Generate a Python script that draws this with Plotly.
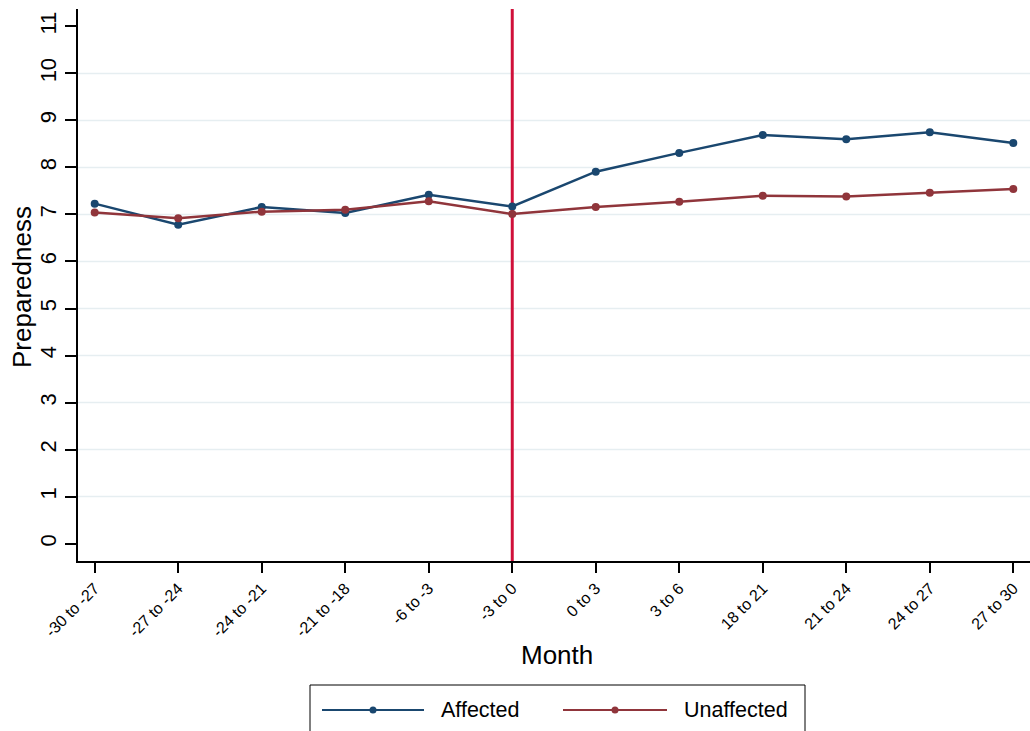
import plotly.graph_objects as go

# Survey periods (months relative to the event) and mean preparedness scores
months = ["-30 to -27", "-27 to -24", "-24 to -21", "-21 to -18", "-6 to -3", "-3 to 0",
          "0 to 3", "3 to 6", "18 to 21", "21 to 24", "24 to 27", "27 to 30"]
affected = [7.23, 6.78, 7.16, 7.03, 7.42, 7.17, 7.91, 8.31, 8.69, 8.60, 8.75, 8.52]
unaffected = [7.04, 6.92, 7.06, 7.10, 7.28, 7.01, 7.16, 7.27, 7.40, 7.38, 7.46, 7.54]
y_ticks = list(range(0, 12))
event_period = "-3 to 0"

BLUE = "#1a476f"
MAROON = "#90353b"
RED = "#d0103a"
GRID = "#e6eef1"
FONT = "Liberation Sans, Arial, sans-serif"

W, H = 1030, 731
L, R, T, B = 78, 0, 9, 170
pw, ph = W - L - R, H - T - B


def px_x(p):
    return (p - L) / pw


def px_y(p):
    return (H - B - p) / ph


xs = list(range(len(months)))

fig = go.Figure()
fig.add_trace(go.Scatter(x=xs, y=affected, mode="lines+markers", name="Affected",
                         line=dict(color=BLUE, width=2.5), marker=dict(color=BLUE, size=8)))
fig.add_trace(go.Scatter(x=xs, y=unaffected, mode="lines+markers", name="Unaffected",
                         line=dict(color=MAROON, width=2.5), marker=dict(color=MAROON, size=8)))

shapes = []
# horizontal gridlines at interior ticks
for v in y_ticks[1:-1]:
    shapes.append(dict(type="line", xref="paper", yref="y", x0=0, x1=1, y0=v, y1=v,
                       line=dict(color=GRID, width=1.5), layer="below"))
# event marker line
ev = months.index(event_period)
shapes.append(dict(type="line", xref="x", yref="paper", x0=ev, x1=ev, y0=0, y1=1,
                   line=dict(color=RED, width=3), layer="below"))

# legend box drawn below the plot
shapes.append(dict(type="rect", xref="paper", yref="paper",
                   x0=px_x(310), x1=px_x(805), y0=px_y(685), y1=px_y(745),
                   line=dict(color="black", width=1), fillcolor="white"))
legend_items = [("Affected", BLUE, 322, 424, 441), ("Unaffected", MAROON, 563, 667, 684)]
annotations = []
ly = px_y(710)
for name, col, a, b, tx in legend_items:
    shapes.append(dict(type="line", xref="paper", yref="paper", x0=px_x(a), x1=px_x(b),
                       y0=ly, y1=ly, line=dict(color=col, width=2)))
    mid = px_x((a + b) / 2)
    shapes.append(dict(type="circle", xref="paper", yref="paper", xsizemode="pixel",
                       ysizemode="pixel", xanchor=mid, yanchor=ly, x0=-3.5, x1=3.5,
                       y0=-3.5, y1=3.5, fillcolor=col, line=dict(color=col, width=0)))
    annotations.append(dict(text=name, xref="paper", yref="paper", x=px_x(tx - 2), y=ly,
                            xanchor="left", yanchor="middle", showarrow=False,
                            font=dict(size=21.5, color="black", family=FONT)))

annotations.append(dict(text="Month", xref="paper", yref="paper", x=px_x(557), y=px_y(655),
                        xanchor="center", yanchor="middle", showarrow=False,
                        font=dict(size=26, color="black", family=FONT)))
annotations.append(dict(text="Preparedness", xref="paper", yref="paper", x=px_x(22),
                        y=px_y(287), xanchor="center", yanchor="middle", showarrow=False,
                        textangle=-90, font=dict(size=26, color="black", family=FONT)))

fig.update_layout(
    width=W, height=H,
    margin=dict(l=L, r=R, t=T, b=B),
    paper_bgcolor="white", plot_bgcolor="white",
    showlegend=False,
    font=dict(family=FONT, color="black"),
    shapes=shapes, annotations=annotations,
    xaxis=dict(range=[-0.2, len(months) - 0.8], tickmode="array", tickvals=xs, ticktext=months,
               tickangle=-45, tickfont=dict(size=16), ticks="outside", ticklen=10,
               tickcolor="black", tickwidth=1.5, showline=True, linecolor="black",
               linewidth=1.5, showgrid=False, zeroline=False),
    yaxis=dict(range=[-0.37, 11.37], tickmode="array", tickvals=y_ticks,
               tickangle=-90, tickfont=dict(size=22), ticks="outside", ticklen=11,
               tickcolor="black", tickwidth=1.5, showline=True, linecolor="black",
               linewidth=1.5, showgrid=False, zeroline=False),
)

fig.write_html("out.html")
